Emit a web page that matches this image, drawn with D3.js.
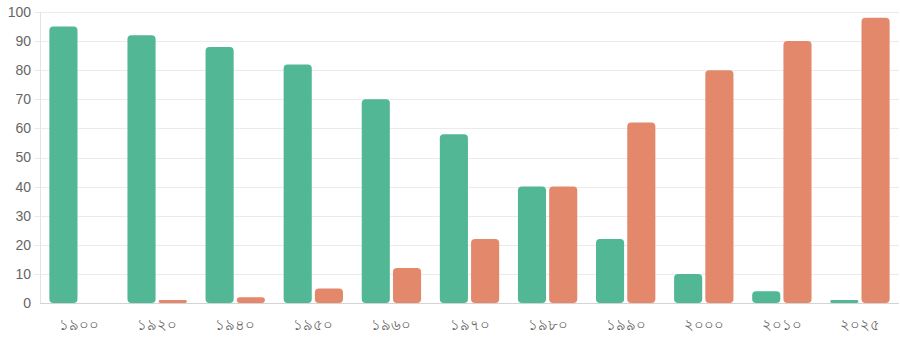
<!DOCTYPE html>
<html>
<head>
<meta charset="utf-8">
<script src="https://cdn.jsdelivr.net/npm/d3@7"></script>
<style>
body{margin:0;background:#fff;}
svg{display:block;font-family:"Helvetica Neue",Helvetica,Arial,"Liberation Sans",sans-serif;}
</style>
</head>
<body>
<div id="chart"></div>
<script>
var years=["১৯০০","১৯২০","১৯৪০","১৯৫০","১৯৬০","১৯৭০","১৯৮০","১৯৯০","২০০০","২০১০","২০২৫"];
var greenVals=[95,92,88,82,70,58,40,22,10,4,1];
var orangeVals=[0,1,2,5,12,22,40,62,80,90,98];
var yTicks=[0,10,20,30,40,50,60,70,80,90,100];
var seriesNames=["a","b"];
var colors=["#52b794","#e3886a"];

var width=900,height=337;
var margin={top:12,right:1,bottom:34,left:40};

var svg=d3.select("#chart").append("svg")
  .attr("width",width)
  .attr("height",height);

var x=d3.scaleBand()
  .domain(years)
  .range([margin.left,width-margin.right]);

var y=d3.scaleLinear()
  .domain([0,100])
  .range([height-margin.bottom,margin.top]);

var inner=d3.scaleBand()
  .domain(seriesNames)
  .range([0,x.bandwidth()*0.8]);

// grid lines
svg.append("g")
  .selectAll("line")
  .data(yTicks)
  .enter()
  .append("line")
  .attr("x1",function(d){return d==0?margin.left:margin.left-6;})
  .attr("x2",width-margin.right)
  .attr("y1",function(d){return Math.round(y(d))+0.5;})
  .attr("y2",function(d){return Math.round(y(d))+0.5;})
  .attr("stroke",function(d){return d==0?"#d4d4d4":"#ebebeb";})
  .attr("stroke-width",1);

// y axis line
svg.append("line")
  .attr("x1",margin.left+0.5).attr("x2",margin.left+0.5)
  .attr("y1",margin.top).attr("y2",height-margin.bottom)
  .attr("stroke","#e3e3e3");

// y labels
svg.append("g")
  .selectAll("text")
  .data(yTicks)
  .enter()
  .append("text")
  .text(function(d){return d;})
  .attr("x",margin.left-9)
  .attr("y",function(d){return y(d);})
  .attr("dy","0.35em")
  .attr("text-anchor","end")
  .attr("fill","#666")
  .attr("font-size",14);

// x labels
svg.append("g")
  .selectAll("text")
  .data(years)
  .enter()
  .append("text")
  .text(function(d){return d;})
  .attr("x",function(d){return x(d)+x.bandwidth()/2;})
  .attr("y",height-margin.bottom+27)
  .attr("text-anchor","middle")
  .attr("fill","#666")
  .attr("font-size",15);

var rows=years.map(function(d,i){
  return {year:d,vals:[greenVals[i],orangeVals[i]]};
});

var bw=inner.bandwidth()*0.9;
var groups=svg.append("g")
  .selectAll("g")
  .data(rows)
  .enter()
  .append("g")
  .attr("transform",function(d){return "translate("+(x(d.year)+x.bandwidth()*0.1)+",0)";});

groups.selectAll("rect")
  .data(function(d){return d.vals.map(function(v,j){return {v:v,s:seriesNames[j],j:j};});})
  .enter()
  .filter(function(d){return d.v>0;})
  .append("rect")
  .attr("x",function(d){return inner(d.s)+inner.bandwidth()*0.05;})
  .attr("y",function(d){return y(d.v);})
  .attr("width",bw)
  .attr("height",function(d){return y(0)-y(d.v);})
  .attr("rx",function(d){return Math.min(4,(y(0)-y(d.v))/2);})
  .attr("fill",function(d){return colors[d.j];});
</script>
</body>
</html>
